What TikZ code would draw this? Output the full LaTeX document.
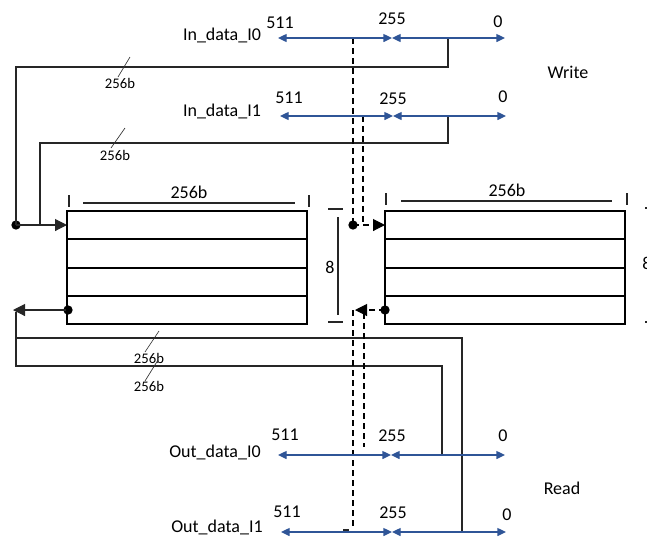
\documentclass[tikz,border=0pt]{standalone}
\usepackage{fontspec}
\setmainfont{Carlito}
\usetikzlibrary{arrows.meta,calc}
\definecolor{arrblue}{RGB}{47,85,151}
\begin{document}
\begin{tikzpicture}[x=0.75pt,y=-0.75pt,
 lbl/.style={font=\fontsize{13.5}{16}\selectfont, inner sep=0pt},
 smalllbl/.style={font=\fontsize{11}{13}\selectfont, inner sep=0pt},
 bus/.style={arrblue, line width=1pt, {Triangle[length=6.5pt,width=6pt]}-{Triangle[length=6.5pt,width=6pt]}},
 wire/.style={black!85, line width=0.8pt},
 blk/.style={line width=1.1pt},
 dsh/.style={line width=0.8pt, dash pattern=on 4.5pt off 3pt},
 harrow/.style={-{Triangle[length=9pt,width=9pt]}},
 dotnode/.style={circle, fill, inner sep=0pt, minimum size=7pt},
 slash/.style={line width=0.5pt, black!80}]
\useasboundingbox (0,0) rectangle (647,537);
\clip (0,0) rectangle (647,537);

% ---- bus coordinates
\coordinate (a0L) at (278,38);  \coordinate (a0M) at (392,38);  \coordinate (a0R) at (505,38);
\coordinate (a1L) at (280,116); \coordinate (a1M) at (393,116); \coordinate (a1R) at (506,116);
\coordinate (b0L) at (278,455); \coordinate (b0M) at (391,455); \coordinate (b0R) at (505,455);
\coordinate (b1L) at (281,532); \coordinate (b1M) at (392,532); \coordinate (b1R) at (506,532);

% ---- wires (drawn first, buses on top)
\coordinate (t0) at (448,38);  \coordinate (c0a) at (448,67);  \coordinate (c0b) at (16,67);
\coordinate (t1) at (448,116); \coordinate (c1a) at (448,143); \coordinate (c1b) at (40,143); \coordinate (c1c) at (40,225);
\node[dotnode] (dotL) at (16,225) {};
\coordinate (inL) at (67,225);
\draw[wire] (t0) -- (c0a) -- (c0b) -- (dotL.center);
\draw[wire] (t1) -- (c1a) -- (c1b) -- (c1c);
\draw[wire, harrow] (dotL.center) -- (inL);

\node[dotnode] (dotLo) at (68,310) {};
\coordinate (outL) at (13,310);
\draw[wire, harrow] (dotLo.center) -- (outL);
\coordinate (v0) at (16,312); \coordinate (v1) at (16,366);
\coordinate (h1) at (442,366); \coordinate (h1d) at (442,455);
\coordinate (v2) at (16,338); \coordinate (h2) at (462,338); \coordinate (h2d) at (462,532);
\draw[wire] (v0) -- (v1) -- (h1) -- (h1d);
\draw[wire] (v2) -- (h2) -- (h2d);

% ---- dashed wires to the right block
\coordinate (d0) at (353,38); \coordinate (d1) at (363,116); \coordinate (d1e) at (363,225);
\node[dotnode] (dotR) at (353,225) {};
\coordinate (inR) at (385,225);
\draw[dsh] (d0) -- (dotR.center);
\draw[dsh] (d1) -- (d1e);
\draw[dsh, harrow] (dotR.center) -- (inR);

\node[dotnode] (dotRo) at (385,310) {};
\coordinate (outR) at (355,310);
\draw[dsh, harrow] (dotRo.center) -- (outR);
\coordinate (e0) at (353,310); \coordinate (e0d) at (353,530);
\coordinate (e1) at (364,313); \coordinate (e1d) at (364,447);
\draw[dsh] (e0) -- (e0d);
\draw[dsh] (e1) -- (e1d);
\coordinate (st0) at (343,530); \coordinate (st1) at (349,530);
\draw[wire] (st0) -- (st1);

% ---- buses
\draw[bus] (a0L) -- (a0M); \draw[bus] (a0M) -- (a0R);
\draw[bus] (a1L) -- (a1M); \draw[bus] (a1M) -- (a1R);
\draw[bus] (b0L) -- (b0M); \draw[bus] (b0M) -- (b0R);
\draw[bus] (b1L) -- (b1M); \draw[bus] (b1M) -- (b1R);

% ---- bus labels
\node[lbl] (n0) at (222,35) {In\_data\_I0};
\node[lbl] (n0a) at (280,23) {511};
\node[lbl] (n0b) at (392,19) {255};
\node[lbl] (n0c) at (498,22) {0};
\node[lbl] (n1) at (222,111) {In\_data\_I1};
\node[lbl] (n1a) at (289,98) {511};
\node[lbl] (n1b) at (393,99) {255};
\node[lbl] (n1c) at (503,97) {0};
\node[lbl] (n2) at (215,452) {Out\_data\_I0};
\node[lbl] (n2a) at (285,435) {511};
\node[lbl] (n2b) at (392,436) {255};
\node[lbl] (n2c) at (503,436) {0};
\node[lbl] (n3) at (217,527) {Out\_data\_I1};
\node[lbl] (n3a) at (287,512) {511};
\node[lbl] (n3b) at (393,513) {255};
\node[lbl] (n3c) at (507,515) {0};
\node[lbl] (wr) at (568,72) {Write};
\node[lbl] (rd) at (562,488) {Read};

% ---- slash marks
\draw[slash] (130,57) -- (118,77);
\node[smalllbl] (s0) at (120,83) {256b};
\draw[slash] (125,128) -- (111,148);
\node[smalllbl] (s1) at (115,155) {256b};
\draw[slash] (159,331) -- (145,352);
\node[smalllbl] (s2) at (149,358) {256b};
\draw[slash] (158,360) -- (145,381);
\node[smalllbl] (s3) at (149,386) {256b};

% ---- blocks
\foreach \xa/\xb/\nm in {67/307/L, 385/625/R}{
  \draw[blk] (\xa,211) rectangle (\xb,324);
  \draw[blk] (\xa,239) -- (\xb,239);
  \draw[blk] (\xa,268) -- (\xb,268);
  \draw[blk] (\xa,296) -- (\xb,296);
}
% width dimension, left block
\draw[wire] (83,203) -- (295,203);
\draw[wire] (69,195) -- (69,207);
\draw[wire] (309,195) -- (309,207);
\node[lbl] (wl) at (189,192) {256b};
% width dimension, right block
\draw[wire] (401,201) -- (612,201);
\draw[wire] (386,193) -- (386,205);
\draw[wire] (627,193) -- (627,205);
\node[lbl] (wrb) at (507,190) {256b};

% height dimension between blocks
\draw[wire] (338,217) -- (338,315);
\draw[wire] (328,209) -- (343,209);
\draw[wire] (328,322) -- (343,322);
\node[lbl] (h8) at (330,267) {8};
% height dimension at right edge (cut off)
\draw[wire] (645,208) -- (655,208);
\draw[wire] (645,322) -- (655,322);
\node[lbl] (h8r) at (647,263) {8};
\end{tikzpicture}
\end{document}
